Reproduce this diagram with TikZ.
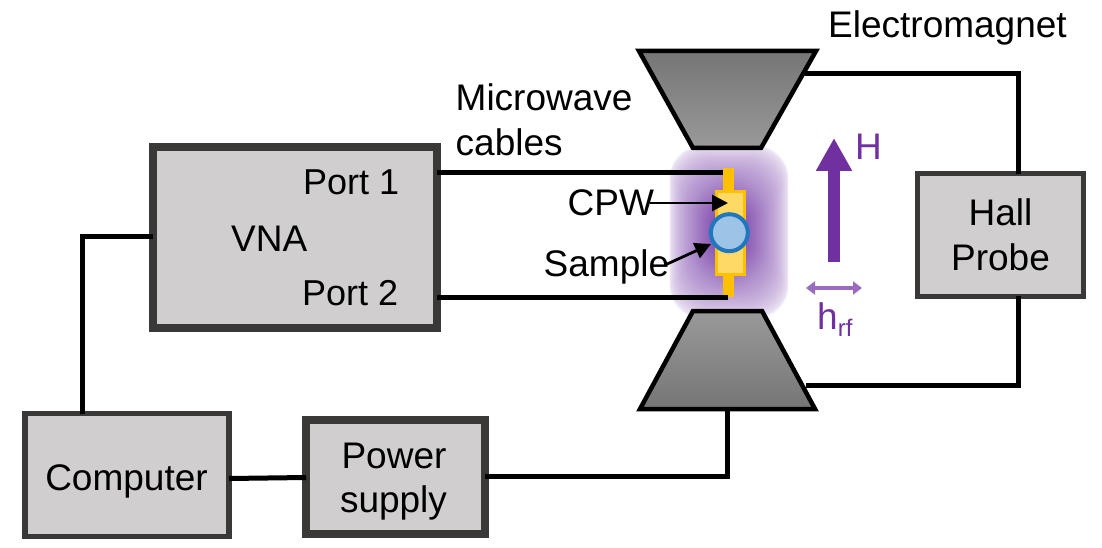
\documentclass[tikz,border=0pt]{standalone}
\usepackage{fontspec}
\setmainfont{Liberation Sans}
\usetikzlibrary{arrows.meta}
\definecolor{boxfill}{HTML}{D0CECE}
\definecolor{boxline}{HTML}{3B3838}
\definecolor{vio}{HTML}{7030A0}
\definecolor{viol}{HTML}{9A6CC0}
\definecolor{glowc}{HTML}{6A2CA0}
\definecolor{yelf}{HTML}{FFD966}
\definecolor{yell}{HTML}{FFC000}
\definecolor{bluef}{HTML}{9DC3E6}
\definecolor{bluel}{HTML}{1F78BE}
\tikzset{
  wire/.style={draw=black,line width=5pt,line join=miter},
  unit/.style={draw=boxline,fill=boxfill,outer sep=0pt,inner sep=0pt,align=center,font=\fontsize{37}{44.5}\selectfont},
  lbl/.style={font=\fontsize{37}{44}\selectfont,inner sep=0pt,text=black},
  magnet/.style={draw=black,line width=4.5pt,line join=miter},
  pointer/.style={draw=black,line width=2.8pt,-{Triangle[length=16pt,width=16pt]}},
}
\begin{document}
\begin{tikzpicture}[x=1pt,y=-1pt]
\useasboundingbox (0,0) rectangle (1102,548);
% microwave field glow
\foreach \t in {0,1,...,60}{
  \pgfmathsetmacro{\f}{\t/60}
  \pgfmathsetmacro{\hw}{58*(1-\f)+2}
  \pgfmathsetmacro{\hh}{85*(1-\f)+2}
  \pgfmathsetmacro{\rr}{min(\hw,32+14*\f)}
  \pgfmathsetmacro{\c}{2+94*pow(\f,0.5)*(0.8+0.2*\f)}
  \fill[glowc!\c!white,rounded corners=\rr pt] (729-\hw,232-\hh) rectangle (729+\hw,232+\hh);
}
% magnets
\coordinate (tA) at (639,51); \coordinate (tB) at (816,51);
\coordinate (tC) at (761,148); \coordinate (tD) at (693,148);
\coordinate (bA) at (693,311); \coordinate (bB) at (762,311);
\coordinate (bC) at (815,409); \coordinate (bD) at (640,409);
\path[magnet,top color=black!54,bottom color=black!40] (tA) -- (tB) -- (tC) -- (tD) -- cycle;
\path[magnet,top color=black!40,bottom color=black!54] (bA) -- (bB) -- (bC) -- (bD) -- cycle;
\coordinate (tW) at (805,74); \coordinate (bW) at (806,385);
\coordinate (pDown) at (727,409);
% boxes
\node[unit,line width=8pt,minimum width=284pt,minimum height=181pt] (vna) at (295,237.5) {};
\node[unit,line width=5pt,minimum width=166pt,minimum height=122pt] (hall) at (1000.5,235) {Hall\\Probe};
\node[unit,line width=5.5pt,minimum width=204pt,minimum height=123pt] (comp) at (127,475) {};
\node[unit,line width=8pt,minimum width=179pt,minimum height=114pt] (pow) at (395.5,477) {};
\node[lbl,anchor=base] (cmp) at (126.5,490) {Computer};
\node[lbl,anchor=base] (pw1) at (394,468) {Power};
\node[lbl,anchor=base] (pw2) at (393.5,512) {supply};
% CPW
\coordinate (stripT) at (728.5,168); \coordinate (stripB) at (728.5,297);
\draw[yell,line width=11pt] (stripT) -- (stripB);
\node[draw=yell,fill=yelf,line width=3pt,minimum width=28pt,minimum height=83pt,inner sep=0pt,outer sep=0pt] (cpw) at (730,233) {};
\node[draw=bluel,fill=bluef,line width=4pt,circle,minimum size=37pt,inner sep=0pt,outer sep=0pt] (samp) at (729.3,232.7) {};
% wires
\coordinate (p1end) at (723,172.7); \coordinate (p2end) at (727.5,297.7);
\draw[wire] (vna.east |- p1end) -- (p1end);
\draw[wire] (vna.east |- p2end) -- (p2end);
\coordinate (hx) at (1018,0);
\draw[wire] (tW) -| (hall.north -| hx);
\draw[wire] (bW) -| (hall.south -| hx);
\coordinate (cx) at (82,0);
\coordinate (vw) at (vna.west |- 0,236);
\draw[wire] (vw) -| (comp.north -| cx);
\draw[wire] (comp.east |- 0,478.5) -- (pow.west |- 0,477.5);
\draw[wire] (pow.east |- 0,476.5) -| (pDown);
% labels
\node[lbl,anchor=base west] (mw1) at (455.5,110.5) {Microwave};
\node[lbl,anchor=base west] (mw2) at (455.5,155.5) {cables};
\node[lbl,anchor=base west] (em) at (828,38) {Electromagnet};
\node[lbl,anchor=base west,font=\fontsize{36}{44}\selectfont] (p1) at (303,194) {Port 1};
\node[lbl,anchor=base west,font=\fontsize{36}{44}\selectfont] (p2) at (302,305) {Port 2};
\node[lbl,anchor=base west] (vl) at (231,251) {VNA};
\node[lbl,anchor=base west] (cl) at (567.5,215) {CPW};
\node[lbl,anchor=base west] (sl) at (543.5,276) {Sample};
% pointers
\coordinate (cTip) at (728,203); \coordinate (cFrom) at (650,203);
\coordinate (sTip) at (711,244); \coordinate (sFrom) at (665,265);
\draw[pointer] (cFrom) -- (cTip);
\draw[pointer] (sFrom) -- (sTip);
% field arrows
\coordinate (hB) at (834,262); \coordinate (hT) at (834,138);
\draw[vio,line width=12pt,-{Triangle[length=33pt,width=34pt]}] (hB) -- (hT);
\node[lbl,text=vio,anchor=base west] (hl) at (855,160) {H};
\coordinate (rL) at (806,288); \coordinate (rR) at (862,288);
\draw[viol,line width=3.2pt,{Triangle[length=9pt,width=13pt]}-{Triangle[length=9pt,width=13pt]}] (rL) -- (rR);
\node[lbl,text=vio,anchor=base west] (rl) at (817,329) {h\raisebox{-7pt}{\fontsize{24}{26}\selectfont rf}};
\end{tikzpicture}
\end{document}
